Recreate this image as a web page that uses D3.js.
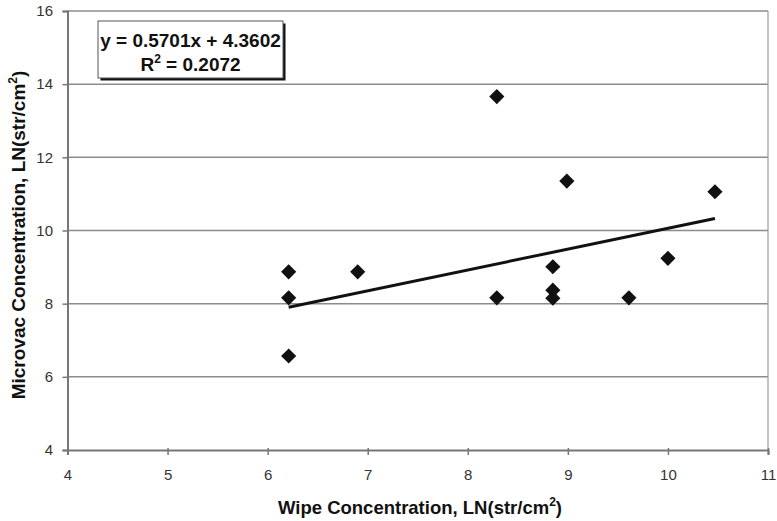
<!DOCTYPE html>
<html><head><meta charset="utf-8">
<script src="https://cdn.jsdelivr.net/npm/d3@7"></script>
<style>body{margin:0;background:#fff}svg{display:block}</style>
</head><body>
<script>
const wipe = [6.21, 6.21, 6.21, 6.90, 8.29, 8.29, 8.85, 8.85, 8.85, 8.99, 9.61, 10.0, 10.47];
const microvac = [8.87, 8.16, 6.57, 8.87, 13.66, 8.16, 9.01, 8.37, 8.15, 11.35, 8.16, 9.24, 11.06];
const xTicks = [4, 5, 6, 7, 8, 9, 10, 11];
const yTicks = [4, 6, 8, 10, 12, 14, 16];
const slope = 0.5701, intercept = 4.3602;
const trendX = [6.21, 10.47];
const eqLines = ["y = 0.5701x + 4.3602", "R2 = 0.2072"];

const W = 777, H = 521;
const svg = d3.select("body").append("svg").attr("width", W).attr("height", H);
const x = d3.scaleLinear().domain([4, 11]).range([67.5, 768]);
const y = d3.scaleLinear().domain([4, 16]).range([450, 11]);
const font = "Liberation Sans, Arial, sans-serif";

// gridlines
svg.append("g").selectAll("line").data(yTicks.filter(d => d > 4)).join("line")
  .attr("x1", x(4)).attr("x2", x(11)).attr("y1", d => y(d)).attr("y2", d => y(d))
  .attr("stroke", "#8c8c8c").attr("stroke-width", 1.5);
// right border
svg.append("line").attr("x1", x(11)).attr("x2", x(11)).attr("y1", y(16)).attr("y2", y(4))
  .attr("stroke", "#9a9a9a").attr("stroke-width", 1.2);

const xAxis = svg.append("g").attr("transform", `translate(0,${y(4)})`)
  .call(d3.axisBottom(x).tickValues(xTicks).tickSize(5).tickPadding(14).tickFormat(d3.format("d")));
const yAxis = svg.append("g").attr("transform", `translate(${x(4)},0)`)
  .call(d3.axisLeft(y).tickValues(yTicks).tickSize(5).tickPadding(9.5).tickFormat(d3.format("d")));
[xAxis, yAxis].forEach(g => {
  g.select(".domain").attr("stroke", "#777").attr("stroke-width", 2);
  g.selectAll(".tick line").attr("stroke", "#777").attr("stroke-width", 1.5);
  g.selectAll(".tick text").attr("font-family", font).attr("font-size", 15).attr("fill", "#333");
});
xAxis.selectAll(".tick line").attr("y1", -2);

// trend line
svg.append("line")
  .attr("x1", x(trendX[0])).attr("y1", y(slope * trendX[0] + intercept))
  .attr("x2", x(trendX[1])).attr("y2", y(slope * trendX[1] + intercept))
  .attr("stroke", "#111").attr("stroke-width", 3);

// points
const sym = d3.symbol().type(d3.symbolSquare).size(115);
svg.append("g").selectAll("path").data(wipe.map((w, i) => [w, microvac[i]])).join("path")
  .attr("d", sym)
  .attr("transform", d => `translate(${x(d[0])},${y(d[1])}) rotate(45)`)
  .attr("fill", "#111");

// equation box
const bx = 98, by = 21, bw = 185, bh = 57;
svg.append("rect").attr("x", bx + 2.5).attr("y", by + 2.5).attr("width", bw).attr("height", bh).attr("fill", "#111");
svg.append("rect").attr("x", bx).attr("y", by).attr("width", bw).attr("height", bh)
  .attr("fill", "#fff").attr("stroke", "#555").attr("stroke-width", 1);
svg.append("text").attr("x", bx + bw / 2).attr("y", 47).attr("text-anchor", "middle")
  .attr("font-family", font).attr("font-weight", "bold").attr("font-size", 19).attr("fill", "#111")
  .text(eqLines[0]);
const t2 = svg.append("text").attr("x", bx + bw / 2).attr("y", 71).attr("text-anchor", "middle")
  .attr("font-family", font).attr("font-weight", "bold").attr("font-size", 19).attr("fill", "#111");
t2.append("tspan").text("R");
t2.append("tspan").attr("dy", -8).attr("font-size", 12).text("2");
t2.append("tspan").attr("dy", 8).text(" = 0.2072");

// axis titles
const xt = svg.append("text").attr("x", 420).attr("y", 514).attr("text-anchor", "middle")
  .attr("font-family", font).attr("font-weight", "bold").attr("font-size", 18.5).attr("fill", "#111");
xt.append("tspan").text("Wipe Concentration, LN(str/cm");
xt.append("tspan").attr("dy", -8).attr("font-size", 12).text("2");
xt.append("tspan").attr("dy", 8).text(")");

const yt = svg.append("text").attr("transform", `translate(25,235) rotate(-90)`).attr("text-anchor", "middle")
  .attr("font-family", font).attr("font-weight", "bold").attr("font-size", 19).attr("fill", "#111");
yt.append("tspan").text("Microvac Concentration, LN(str/cm");
yt.append("tspan").attr("dy", -8).attr("font-size", 12).text("2");
yt.append("tspan").attr("dy", 8).text(")");
</script>
</body></html>
